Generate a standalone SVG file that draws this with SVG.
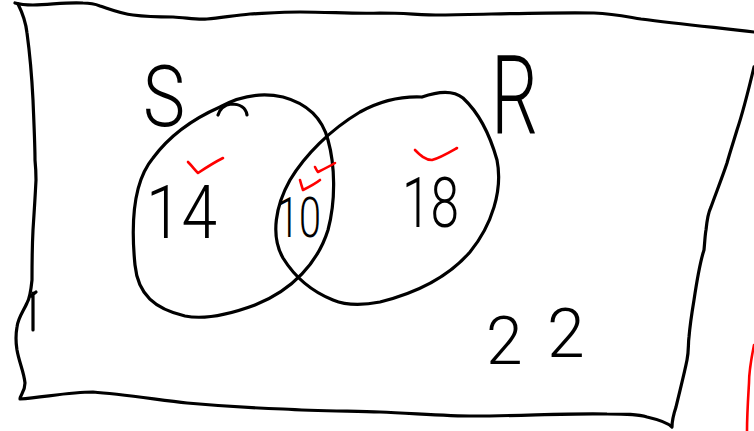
<svg xmlns="http://www.w3.org/2000/svg" width="754" height="431" viewBox="0 0 754 431">
<style>
.ink{fill:none;stroke:#000;stroke-width:3.2;stroke-linecap:round;stroke-linejoin:round}
.red{fill:none;stroke:#f00;stroke-width:2.6;stroke-linecap:round;stroke-linejoin:round}
.lbl{font-family:Roboto,"Liberation Sans",sans-serif;font-weight:300;fill:#000}
</style>
<rect width="754" height="431" fill="#fff"/>
<g id="frame">
<path class="ink" d="M15,3 C22,5 28,5 33,5 C55,4 70,2 83,3 C90,3 95,4 100,6 C112,10 122,14 133,15 C148,17 160,17 173,17 C188,18 198,20 207,19 C225,17 238,15 250,14 C270,13 285,12 300,12 C330,12 355,14 380,13 C405,13 420,15 441,15 C500,14 560,12 594,13 C615,14 628,17 641,19 C680,24 720,28 754,32"/>
<path class="ink" d="M18,4 C23,14 26,24 27,33 C30,55 32,80 33,100 C34,125 35,145 35,160 C36,170 36,175 36,180 C35,200 34,215 33,230 C32,250 32,265 32,280 C31,290 30,298 27,303 C23,312 18,318 17,327 C15,338 16,343 17,350 C19,362 24,372 25,383 C25,392 20,395 20,399 C45,397 70,392 93,392 C120,394 160,400 187,403 C220,406 255,408 283,409 C315,411 350,411 380,412 C410,413 445,416 474,416 C520,416 570,413 607,414 C625,414 638,414 647,417 C660,420 668,423 672,427 C672,420 674,413 676,407 C680,390 684,375 687,360 C689,350 688,344 689,337 C690,325 692,312 694,300 C697,280 700,262 704,250 C705,240 705,235 706,230 C707,220 708,213 711,207 C716,193 722,178 727,163 C730,152 734,140 737,130 C741,118 749,88 754,67"/>
<path class="ink" d="M33,293 L33,330 M31,296 L36,292"/>
<path class="red" d="M754,345 C751,360 749,372 749,383 C748,400 747,415 747,431"/>
</g>
<g id="set-S">
<path class="ink" d="M220,107 C240,96 260,92 283,97 C305,103 322,117 328,140 C335,165 336,200 328,230 C318,262 293,290 255,305 C228,315 205,320 185,316 C155,309 138,295 135,265 C131,225 133,182 153,158 C170,135 195,118 220,107 Z"/>
<path class="ink" d="M218,115 C220,109 224,105 231,104 C240,104 246,108 247,115"/>
</g>
<g id="set-R">
<path class="ink" d="M422,97 C436,92 452,89 463,98 C478,112 490,135 497,160 C503,190 492,225 470,252 C450,275 420,292 380,302 C360,306 345,305 333,300 C313,292 296,279 283,258 C270,235 276,205 290,180 C305,155 330,130 360,112 C380,101 400,96 422,97"/>
</g>
<g id="labels">
<text class="lbl" x="143" y="126" font-size="86" textLength="42" lengthAdjust="spacingAndGlyphs">S</text>
<text class="lbl" x="491" y="134" font-size="110" textLength="47" lengthAdjust="spacingAndGlyphs">R</text>
<text class="lbl" x="146" y="238" font-size="75" textLength="71" lengthAdjust="spacingAndGlyphs">14</text>
<text class="lbl" x="277" y="237" font-size="55" textLength="44" lengthAdjust="spacingAndGlyphs">10</text>
<text class="lbl" x="402" y="227" font-size="70" textLength="57" lengthAdjust="spacingAndGlyphs">18</text>
<text class="lbl" font-size="66"><tspan x="486" y="364">2</tspan><tspan x="547" y="357" font-size="68">2</tspan></text>
</g>
<g id="checks">
<path class="red" d="M188,162 C192,166 195,170 198,173 C207,167 215,162 223,158"/>
<path class="red" d="M300,180 C301,184 302,187 303,190 C309,187 315,184 320,180"/>
<path class="red" d="M315,167 C316,169 317,171 318,172 C324,169 330,166 335,163"/>
<path class="red" d="M415,150 C420,155 425,160 432,160 C440,158 450,152 457,148"/>
</g>
</svg>
